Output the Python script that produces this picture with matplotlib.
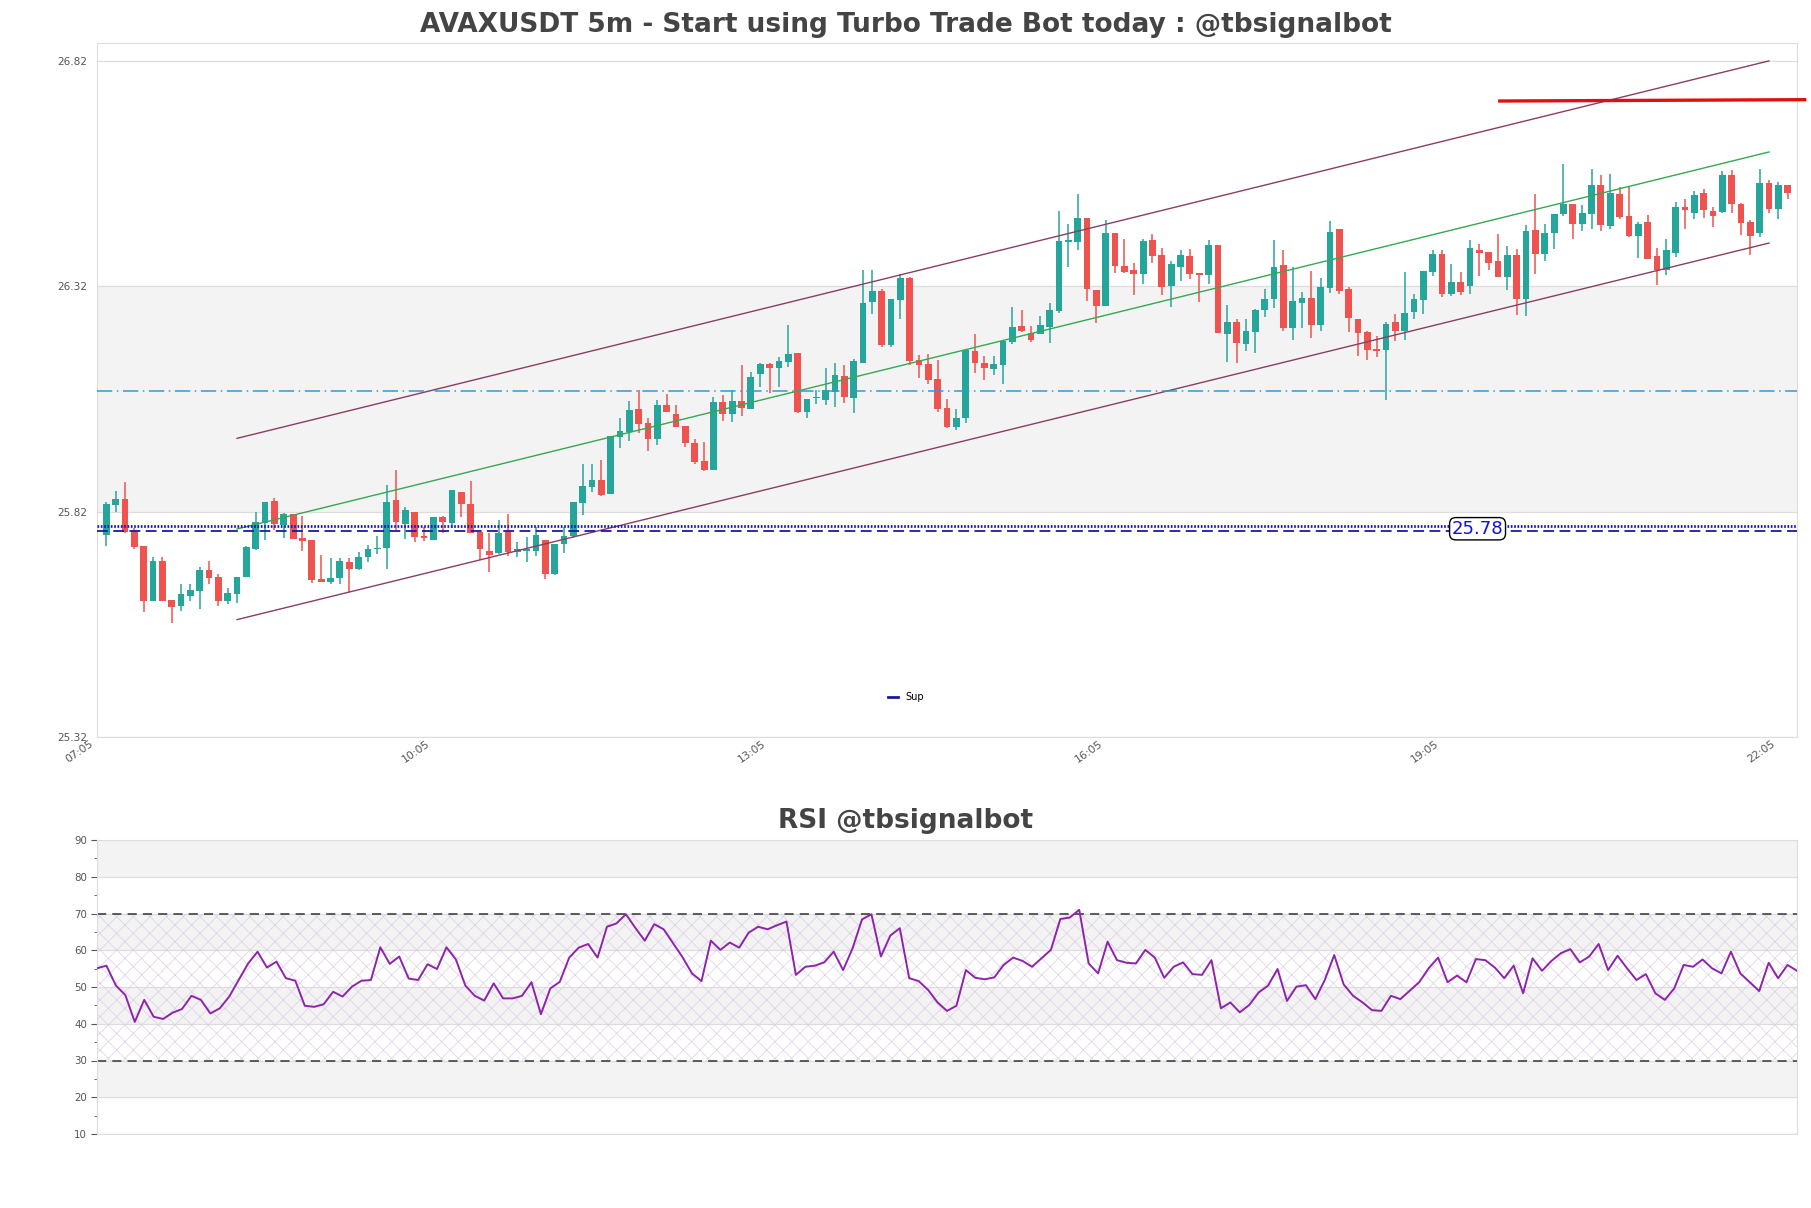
import matplotlib
matplotlib.use("Agg")
import matplotlib.pyplot as plt
from matplotlib.lines import Line2D
import matplotlib.transforms as mtransforms
import numpy as np

plt.rcParams['font.family'] = ['DejaVu Sans']
plt.rcParams['hatch.linewidth'] = 0.5

# ---------------- data ----------------
opens = [25.769, 25.836, 25.848, 25.777, 25.744, 25.623, 25.711, 25.624, 25.612, 25.634,
         25.645, 25.691, 25.676, 25.623, 25.637, 25.675, 25.737, 25.796, 25.844, 25.791,
         25.816, 25.762, 25.757, 25.671, 25.665, 25.674, 25.708, 25.693, 25.719, 25.737,
         25.739, 25.846, 25.794, 25.820, 25.766, 25.757, 25.808, 25.796, 25.864, 25.837,
         25.776, 25.733, 25.728, 25.776, 25.732, 25.734, 25.734, 25.757, 25.682, 25.749,
         25.767, 25.839, 25.876, 25.890, 25.859, 25.986, 25.996, 26.048, 26.018, 25.981,
         26.057, 26.038, 26.010, 25.973, 25.933, 25.913, 26.064, 26.038, 26.066, 26.047,
         26.125, 26.147, 26.138, 26.153, 26.173, 26.042, 26.073, 26.068, 26.086, 26.121,
         26.072, 26.150, 26.286, 26.309, 26.190, 26.289, 26.338, 26.156, 26.148, 26.114,
         26.051, 26.009, 26.029, 26.176, 26.150, 26.136, 26.145, 26.196, 26.232, 26.217,
         26.214, 26.230, 26.265, 26.419, 26.419, 26.471, 26.312, 26.277, 26.439, 26.365,
         26.356, 26.347, 26.422, 26.389, 26.320, 26.363, 26.387, 26.349, 26.345, 26.411,
         26.215, 26.241, 26.193, 26.219, 26.267, 26.291, 26.367, 26.228, 26.282, 26.295,
         26.234, 26.317, 26.447, 26.314, 26.247, 26.218, 26.181, 26.179, 26.240, 26.221,
         26.263, 26.290, 26.351, 26.392, 26.304, 26.329, 26.321, 26.400, 26.397, 26.376,
         26.341, 26.389, 26.292, 26.445, 26.391, 26.439, 26.480, 26.502, 26.458, 26.480,
         26.544, 26.454, 26.524, 26.476, 26.431, 26.462, 26.387, 26.357, 26.394, 26.495,
         26.483, 26.526, 26.487, 26.485, 26.567, 26.502, 26.462, 26.439, 26.550, 26.491,
         26.544]
highs = [25.842, 25.866, 25.886, 25.785, 25.744, 25.719, 25.719, 25.624, 25.660, 25.660,
         25.697, 25.711, 25.683, 25.652, 25.675, 25.744, 25.820, 25.842, 25.851, 25.818,
         25.816, 25.810, 25.757, 25.725, 25.718, 25.717, 25.717, 25.731, 25.746, 25.767,
         25.879, 25.912, 25.831, 25.820, 25.787, 25.809, 25.811, 25.868, 25.864, 25.888,
         25.776, 25.774, 25.802, 25.815, 25.752, 25.765, 25.787, 25.757, 25.749, 25.787,
         25.841, 25.927, 25.927, 25.935, 25.988, 26.027, 26.066, 26.090, 26.027, 26.068,
         26.081, 26.057, 26.010, 25.981, 25.975, 26.075, 26.079, 26.090, 26.145, 26.131,
         26.151, 26.149, 26.164, 26.235, 26.173, 26.070, 26.090, 26.140, 26.149, 26.145,
         26.158, 26.356, 26.357, 26.315, 26.291, 26.347, 26.340, 26.168, 26.171, 26.156,
         26.071, 26.049, 26.180, 26.214, 26.165, 26.165, 26.199, 26.275, 26.267, 26.233,
         26.254, 26.282, 26.487, 26.459, 26.525, 26.471, 26.312, 26.467, 26.439, 26.424,
         26.371, 26.424, 26.436, 26.406, 26.376, 26.400, 26.402, 26.349, 26.422, 26.411,
         26.278, 26.247, 26.247, 26.270, 26.314, 26.422, 26.400, 26.362, 26.308, 26.354,
         26.339, 26.465, 26.448, 26.319, 26.247, 26.221, 26.210, 26.241, 26.258, 26.351,
         26.303, 26.354, 26.400, 26.400, 26.369, 26.351, 26.423, 26.415, 26.397, 26.437,
         26.409, 26.403, 26.456, 26.524, 26.459, 26.480, 26.592, 26.502, 26.500, 26.581,
         26.567, 26.570, 26.541, 26.543, 26.463, 26.479, 26.406, 26.424, 26.506, 26.513,
         26.532, 26.535, 26.495, 26.575, 26.578, 26.505, 26.467, 26.581, 26.556, 26.552,
         26.544]
lows = [25.744, 25.820, 25.772, 25.737, 25.598, 25.623, 25.623, 25.574, 25.601, 25.622,
        25.604, 25.660, 25.612, 25.615, 25.618, 25.675, 25.735, 25.757, 25.779, 25.763,
        25.760, 25.734, 25.663, 25.665, 25.659, 25.659, 25.643, 25.692, 25.708, 25.726,
        25.694, 25.779, 25.760, 25.754, 25.756, 25.757, 25.774, 25.785, 25.809, 25.772,
        25.713, 25.687, 25.726, 25.722, 25.720, 25.708, 25.721, 25.670, 25.680, 25.729,
        25.761, 25.814, 25.865, 25.856, 25.859, 25.962, 25.978, 25.994, 25.955, 25.968,
        26.042, 26.009, 25.963, 25.926, 25.911, 25.913, 26.022, 26.020, 26.033, 26.047,
        26.097, 26.083, 26.097, 26.142, 26.040, 26.027, 26.060, 26.057, 26.053, 26.062,
        26.040, 26.150, 26.258, 26.185, 26.185, 26.247, 26.145, 26.116, 26.103, 26.042,
        26.005, 26.001, 26.016, 26.128, 26.112, 26.123, 26.103, 26.193, 26.219, 26.197,
        26.214, 26.195, 26.261, 26.363, 26.400, 26.288, 26.239, 26.277, 26.350, 26.350,
        26.301, 26.326, 26.372, 26.301, 26.275, 26.332, 26.336, 26.286, 26.326, 26.217,
        26.153, 26.149, 26.177, 26.173, 26.251, 26.271, 26.222, 26.201, 26.227, 26.206,
        26.221, 26.306, 26.304, 26.218, 26.166, 26.157, 26.164, 26.067, 26.199, 26.201,
        26.247, 26.258, 26.344, 26.297, 26.299, 26.301, 26.303, 26.343, 26.356, 26.341,
        26.312, 26.256, 26.254, 26.347, 26.377, 26.402, 26.476, 26.425, 26.442, 26.448,
        26.442, 26.448, 26.469, 26.430, 26.383, 26.380, 26.323, 26.345, 26.386, 26.447,
        26.469, 26.472, 26.451, 26.483, 26.483, 26.434, 26.389, 26.430, 26.482, 26.469,
        26.513]
closes = [25.837, 25.848, 25.776, 25.743, 25.623, 25.711, 25.623, 25.610, 25.638, 25.646,
          25.691, 25.674, 25.623, 25.639, 25.675, 25.743, 25.798, 25.842, 25.794, 25.815,
          25.760, 25.756, 25.669, 25.665, 25.674, 25.711, 25.693, 25.720, 25.737, 25.739,
          25.842, 25.798, 25.824, 25.765, 25.761, 25.809, 25.798, 25.868, 25.837, 25.774,
          25.738, 25.724, 25.772, 25.732, 25.737, 25.737, 25.768, 25.682, 25.749, 25.767,
          25.841, 25.877, 25.890, 25.857, 25.988, 25.999, 26.046, 26.015, 25.981, 26.057,
          26.042, 26.009, 25.972, 25.930, 25.913, 26.064, 26.038, 26.066, 26.051, 26.118,
          26.147, 26.138, 26.154, 26.170, 26.042, 26.070, 26.075, 26.090, 26.123, 26.075,
          26.155, 26.284, 26.309, 26.190, 26.291, 26.338, 26.155, 26.145, 26.112, 26.049,
          26.009, 26.029, 26.179, 26.149, 26.140, 26.148, 26.199, 26.230, 26.221, 26.201,
          26.234, 26.267, 26.420, 26.422, 26.471, 26.315, 26.277, 26.439, 26.366, 26.352,
          26.347, 26.420, 26.387, 26.319, 26.369, 26.389, 26.347, 26.345, 26.411, 26.217,
          26.240, 26.195, 26.221, 26.267, 26.292, 26.362, 26.228, 26.287, 26.295, 26.234,
          26.319, 26.441, 26.309, 26.250, 26.216, 26.179, 26.176, 26.236, 26.221, 26.262,
          26.293, 26.354, 26.392, 26.303, 26.329, 26.307, 26.406, 26.394, 26.372, 26.341,
          26.389, 26.292, 26.442, 26.391, 26.439, 26.480, 26.502, 26.458, 26.482, 26.544,
          26.456, 26.526, 26.473, 26.431, 26.458, 26.380, 26.357, 26.400, 26.495, 26.489,
          26.522, 26.489, 26.476, 26.567, 26.502, 26.461, 26.432, 26.550, 26.491, 26.544,
          26.526]

rsi = [55.1, 55.8, 50.4, 47.8, 40.5, 46.5, 41.9, 41.3, 43.0, 44.0,
       47.6, 46.5, 42.8, 44.2, 47.4, 51.9, 56.4, 59.6, 55.3, 56.9,
       52.4, 51.7, 44.9, 44.6, 45.3, 48.7, 47.4, 50.1, 51.7, 51.9,
       60.8, 56.3, 58.3, 52.3, 51.9, 56.2, 54.9, 60.8, 57.5, 50.4,
       47.6, 46.3, 51.0, 46.9, 46.9, 47.6, 51.3, 42.6, 49.6, 51.4,
       58.0, 60.7, 61.7, 58.0, 66.4, 67.3, 69.8, 66.1, 62.6, 67.1,
       65.7, 61.9, 58.1, 53.7, 51.6, 62.6, 60.1, 62.1, 60.7, 64.8,
       66.4, 65.7, 66.8, 67.8, 53.3, 55.5, 55.8, 56.7, 59.6, 54.6,
       60.5, 68.4, 69.8, 58.3, 64.0, 66.0, 52.4, 51.6, 49.2, 45.8,
       43.5, 44.9, 54.6, 52.5, 52.1, 52.6, 56.0, 58.0, 57.1, 55.5,
       57.8, 60.1, 68.5, 68.9, 71.0, 56.4, 53.7, 62.3, 57.3, 56.6,
       56.4, 60.1, 58.0, 52.5, 55.5, 56.7, 53.5, 53.3, 57.3, 44.2,
       45.8, 43.1, 45.1, 48.5, 50.4, 54.9, 46.2, 50.1, 50.5, 46.7,
       51.9, 58.7, 50.7, 47.6, 45.8, 43.7, 43.5, 47.6, 46.7, 49.0,
       51.3, 55.1, 58.0, 51.3, 53.1, 51.3, 57.6, 57.3, 55.3, 52.4,
       55.8, 48.3, 57.8, 54.4, 57.1, 59.2, 60.3, 56.7, 58.3, 61.7,
       54.6, 58.5, 55.1, 51.9, 53.5, 48.3, 46.5, 49.6, 56.0, 55.5,
       57.5, 55.1, 53.7, 59.6, 53.7, 51.3, 48.9, 56.6, 52.4, 56.0,
       54.4]

time_labels = ['07:05', '10:05', '13:05', '16:05', '19:05', '22:05']
time_label_idx = [0, 36, 72, 108, 144, 180]
price_ticks = [25.32, 25.82, 26.32, 26.82]

channel_x = [14, 178]
channel_upper = [25.983, 26.820]
channel_mid = [25.782, 26.618]
channel_lower = [25.581, 26.416]

resist_x = [149, 182]
resist_y = [26.731, 26.734]
pivot_level = 26.088
sup_dotted = 25.788
sup_dashed = 25.777
sup_label = '25.78'
sup_label_x = 146.8

main_title = 'AVAXUSDT 5m - Start using Turbo Trade Bot today : @tbsignalbot'
rsi_title = 'RSI @tbsignalbot'

# ---------------- figure ----------------
W, H = 1811, 1208
fig = plt.figure(figsize=(W / 100, H / 100), dpi=100)
ax = fig.add_axes([97 / W, 1 - 737.3 / H, 1700 / W, 694 / H])
ax2 = fig.add_axes([97 / W, 1 - 1134 / H, 1700 / W, 294 / H])

UP = '#26a69a'
DOWN = '#ef5350'
TXT = '#555555'
SPINE = '#dddddd'

o = np.array(opens); h = np.array(highs); l = np.array(lows); c = np.array(closes)
x = np.arange(len(o))
col = np.where(c >= o, UP, DOWN)
ax.vlines(x, l, h, colors=col, linewidth=1.1, zorder=2)
body_bot = np.minimum(o, c)
body_h = np.maximum(np.abs(c - o), 0.0015)
ax.bar(x, body_h, bottom=body_bot, width=0.72, color=col, linewidth=0, zorder=2)

# background band and grid
ax.axhspan(25.82, 26.32, color='#f3f3f3', zorder=0, linewidth=0)
for p in price_ticks:
    ax.axhline(p, color='#dddddd', linewidth=0.9, zorder=0.5)

# channel
ax.plot(channel_x, channel_upper, color='#8a3e63', linewidth=1.0, zorder=3)
ax.plot(channel_x, channel_lower, color='#8a3e63', linewidth=1.0, zorder=3)
ax.plot(channel_x, channel_mid, color='#35a853', linewidth=1.0, zorder=3)

# levels
ax.axhline(pivot_level, color='#2d9ad8', linewidth=1.1, linestyle=(0, (10, 3, 1, 3)), zorder=3)
ax.axhline(sup_dotted, color='#1414d8', linewidth=2.0, linestyle=(0, (0.6, 0.6)), zorder=3)
ax.axhline(sup_dashed, color='#1a1aa0', linewidth=1.3, linestyle=(0, (6, 3)), zorder=3)
ax.plot(resist_x, resist_y, color='#e01010', linewidth=2.4, zorder=4, clip_on=False,
        solid_capstyle='butt')
ax.text(sup_label_x, (sup_dotted + sup_dashed) / 2, sup_label, color='#1010e0', fontsize=13,
        ha='center', va='center', zorder=5,
        bbox=dict(boxstyle='round,pad=0.12,rounding_size=0.35', fc='white', ec='black', lw=1.0))

ax.legend(handles=[Line2D([], [], color='#1a1aa0', linewidth=2)], labels=['Sup'],
          loc='lower center', bbox_to_anchor=(0.476, 0.038), frameon=False, fontsize=7,
          handlelength=1.0, handletextpad=0.8)

ax.set_xlim(-1, 181)
ax.set_ylim(25.32, 26.859)
ax.set_yticks(price_ticks)
ax.set_yticklabels([f'{p:.2f}' for p in price_ticks])
ax.set_xticks(time_label_idx)
ax.set_xticklabels(time_labels, rotation=35, ha='right')
ax.tick_params(axis='y', length=0, labelsize=7.6, colors=TXT, pad=7)
ax.tick_params(axis='x', length=0, labelsize=7.8, colors=TXT, pad=1)
shift = mtransforms.ScaledTranslation(-11 / 100, 0, fig.dpi_scale_trans)
for lab in ax.get_xticklabels():
    lab.set_transform(lab.get_transform() + shift)
for s in ax.spines.values():
    s.set_color(SPINE)

# ---------------- RSI ----------------
xr = np.arange(len(rsi))
for lo_, hi_ in [(80, 90), (60, 70), (40, 50), (20, 30)]:
    ax2.axhspan(lo_, hi_, color='#f3f3f3', zorder=0, linewidth=0)
ax2.axhspan(30, 70, facecolor='none', edgecolor='#dccfe6', hatch='xx', linewidth=0, zorder=0.6)
for v in range(10, 100, 10):
    ax2.axhline(v, color='#dddddd', linewidth=0.9, zorder=0.5)
ax2.axhline(70, color='#333333', linewidth=1.1, linestyle=(0, (6, 4)), zorder=2)
ax2.axhline(30, color='#333333', linewidth=1.1, linestyle=(0, (6, 4)), zorder=2)
ax2.plot(xr, rsi, color='#8e24aa', linewidth=1.4, zorder=3)
ax2.set_xlim(0, len(rsi) - 1)
ax2.set_ylim(10, 90)
ax2.set_yticks(range(10, 100, 10))
ax2.set_yticks(range(15, 90, 10), minor=True)
ax2.set_xticks([])
ax2.tick_params(axis='y', which='major', length=4, labelsize=7.4, colors=TXT, pad=3)
ax2.tick_params(axis='y', which='minor', length=2.5, colors=TXT)
for s in ax2.spines.values():
    s.set_color(SPINE)

fig.text(0.5, 1 - 25 / H, main_title, ha='center', va='center', fontsize=19,
         fontweight='bold', color='#444444')
fig.text(0.5, 1 - 821 / H, rsi_title, ha='center', va='center', fontsize=19,
         fontweight='bold', color='#444444')

fig.savefig('out.png', dpi=100)
